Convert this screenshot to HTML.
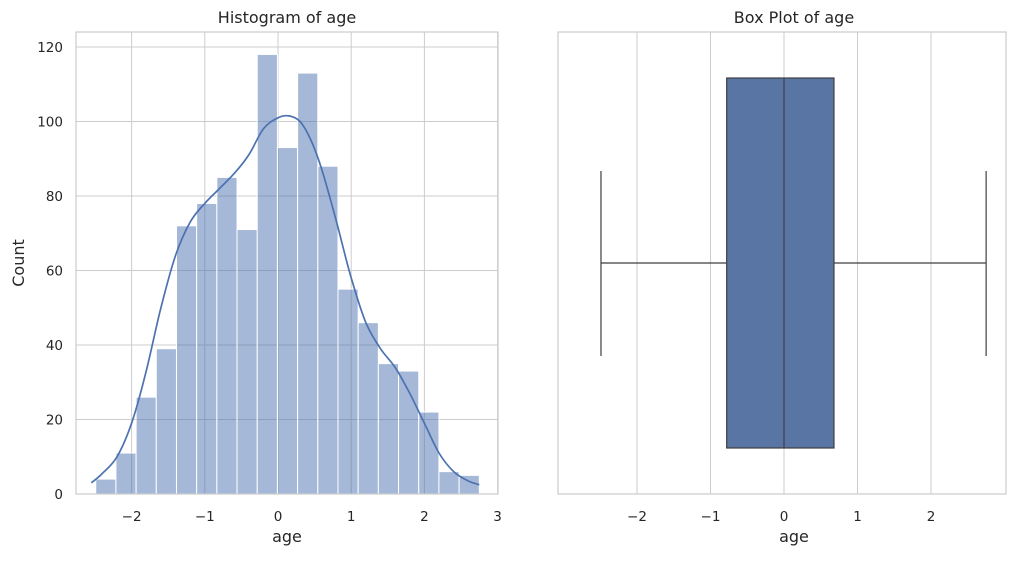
<!DOCTYPE html>
<html><head><meta charset="utf-8"><style>
body{margin:0;background:#fff;font-family:"Liberation Sans","DejaVu Sans",sans-serif;}
svg text{font-family:"DejaVu Sans","Liberation Sans",sans-serif;fill:#262626;}
</style></head><body>
<svg id="chart" width="1020" height="556" xmlns="http://www.w3.org/2000/svg"></svg>
<script>
const binStart = -2.49, binEnd = 2.75;
const counts = [4,11,26,39,72,78,85,71,118,93,113,88,55,46,35,33,22,6,5];
const kdeX = [-2.55,-2.4,-2.2,-2,-1.8,-1.6,-1.4,-1.2,-1,-0.8,-0.6,-0.4,-0.2,0,0.15,0.3,0.45,0.6,0.8,1,1.2,1.4,1.6,1.8,2,2.2,2.4,2.6,2.75];
const kdeY = [3,5.5,10,19,33,50,64,73,78,82,86,91,98,101,101.5,100,95,87,73,58,46,39,34,27,19,11,6,3.5,2.5];
const xTicks = [-2,-1,0,1,2,3];
const yTicks = [0,20,40,60,80,100,120];
const boxXTicks = [-2,-1,0,1,2];
const boxStats = {min:-2.49, q1:-0.78, med:0, q3:0.68, max:2.75};

const NS="http://www.w3.org/2000/svg";
const svg=document.getElementById('chart');
function el(t,a,p){const e=document.createElementNS(NS,t);for(const k in a)e.setAttribute(k,a[k]);(p||svg).appendChild(e);return e;}
function txt(x,y,s,size,anchor,p){const e=el('text',{x:x,y:y,'font-size':size,'text-anchor':anchor||'middle'},p);e.textContent=s;return e;}
function smooth(pts){let d='M'+pts[0][0].toFixed(1)+','+pts[0][1].toFixed(1);
 for(let i=0;i<pts.length-1;i++){const p0=pts[i-1]||pts[i],p1=pts[i],p2=pts[i+1],p3=pts[i+2]||p2;
  const c1=[p1[0]+(p2[0]-p0[0])/6,p1[1]+(p2[1]-p0[1])/6],c2=[p2[0]-(p3[0]-p1[0])/6,p2[1]-(p3[1]-p1[1])/6];
  d+='C'+c1.map(v=>v.toFixed(1))+' '+c2.map(v=>v.toFixed(1))+' '+p2.map(v=>v.toFixed(1));}
 return d;}

const L={x0:76,x1:498,y0:32,y1:494};
const sx=v=>278+v*73.2;
const sy=v=>494-v*(447/120);
const g1=el('g',{});


xTicks.forEach(t=>{el('line',{x1:sx(t),x2:sx(t),y1:L.y0,y2:L.y1,stroke:'#cccccc','stroke-width':1},g1);
 const lb=txt(sx(t),521,(t<0?'\u2212':'')+Math.abs(t),13.5,'middle',g1);
 });
yTicks.forEach(t=>{el('line',{x1:L.x0,x2:L.x1,y1:sy(t),y2:sy(t),stroke:'#cccccc','stroke-width':1},g1);
 const lb=txt(L.x0-13,sy(t)+5,String(t),13.5,'end',g1);
 });
const bw=(binEnd-binStart)/counts.length;
counts.forEach((c,i)=>{const xa=sx(binStart+i*bw),xb=sx(binStart+(i+1)*bw);
 const r=el('rect',{x:xa,y:sy(c),width:xb-xa,height:sy(0)-sy(c),fill:'rgba(76,114,176,0.5)',stroke:'#fff','stroke-width':1},g1);
 });
const kd=el('path',{d:smooth(kdeX.map((x,i)=>[sx(x),sy(kdeY[i])])),fill:'none',stroke:'#4c72b0','stroke-width':1.7,'stroke-linejoin':'round'},g1);

el('rect',{x:L.x0,y:L.y0,width:L.x1-L.x0,height:L.y1-L.y0,fill:'none',stroke:'#cccccc','stroke-width':1.2},g1);
let t1=txt(287,23,'Histogram of age',16,'middle',g1);
let t2=txt(287,542,'age',16,'middle',g1);
let t3=txt(24,263,'Count',16,'middle',g1);t3.setAttribute('transform','rotate(-90 24 263)');

const R={x0:558,x1:1006,y0:32,y1:494};
const bx=v=>784+v*73.5;
const g2=el('g',{});


boxXTicks.forEach(t=>{el('line',{x1:bx(t),x2:bx(t),y1:R.y0,y2:R.y1,stroke:'#cccccc','stroke-width':1},g2);
 const lb=txt(bx(t),521,(t<0?'\u2212':'')+Math.abs(t),13.5,'middle',g2);
 });
const c='#3f3f3f';
el('line',{x1:bx(boxStats.min),x2:bx(boxStats.q1),y1:263,y2:263,stroke:c,'stroke-width':1.2},g2);
el('line',{x1:bx(boxStats.q3),x2:bx(boxStats.max),y1:263,y2:263,stroke:c,'stroke-width':1.2},g2);
el('line',{x1:bx(boxStats.min),x2:bx(boxStats.min),y1:171,y2:356,stroke:c,'stroke-width':1.2},g2);
el('line',{x1:bx(boxStats.max),x2:bx(boxStats.max),y1:171,y2:356,stroke:c,'stroke-width':1.2},g2);
const bxr=el('rect',{x:bx(boxStats.q1),y:78,width:bx(boxStats.q3)-bx(boxStats.q1),height:370,fill:'#5875a4',stroke:c,'stroke-width':1.2},g2);

el('line',{x1:bx(boxStats.med),x2:bx(boxStats.med),y1:78,y2:448,stroke:c,'stroke-width':1.2},g2);
el('rect',{x:R.x0,y:R.y0,width:R.x1-R.x0,height:R.y1-R.y0,fill:'none',stroke:'#cccccc','stroke-width':1.2},g2);
let t4=txt(794,23,'Box Plot of age',16,'middle',g2);
let t5=txt(794,542,'age',16,'middle',g2);
</script>
</body></html>
